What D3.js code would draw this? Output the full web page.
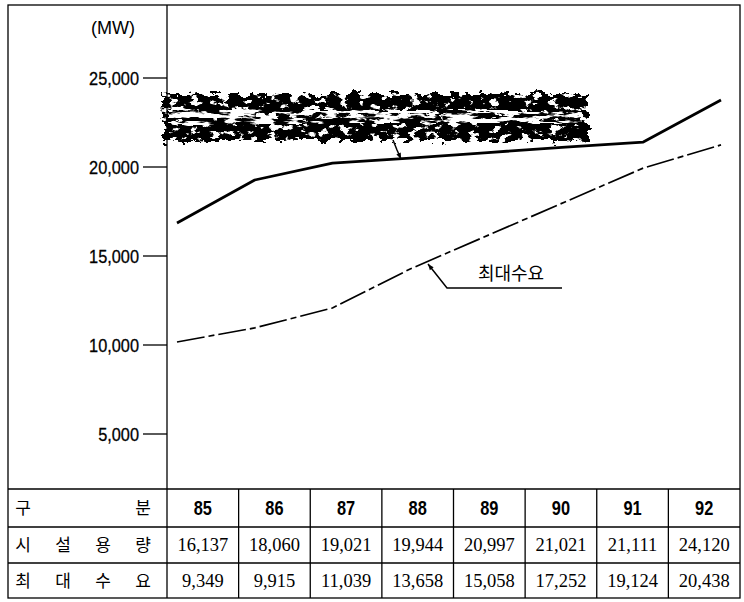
<!DOCTYPE html>
<html>
<head>
<meta charset="utf-8">
<script src="https://cdn.jsdelivr.net/npm/d3@7"></script>
<style>
  body { margin: 0; background: #fff; }
  .narrow { font-family: "Liberation Sans", Arial, sans-serif; }
  .serif { font-family: "Liberation Serif", "DejaVu Serif", serif; }
  .kor { font-family: "Noto Sans CJK KR", sans-serif; }
</style>
</head>
<body>
<div id="chart"></div>
<script>
// 시설용량 / 최대수요 chart (85 ~ 92), drawn with d3.

/* Data. */
var years = ["85", "86", "87", "88", "89", "90", "91", "92"];
var capacity = [16137, 18060, 19021, 19944, 20997, 21021, 21111, 24120]; // table row
var peakDemand = [9349, 9915, 11039, 13658, 15058, 17252, 19124, 20438]; // table row
// values as the lines are drawn on the graph
var capacityLine = [16850, 19270, 20220, 20500, 20810, 21120, 21400, 23760];
var demandLine = [10170, 10960, 12080, 14270, 16160, 18050, 19940, 21240];
var yTicks = [5000, 10000, 15000, 20000, 25000];
var rowHeads = [["구", "분"], ["시", "설", "용", "량"], ["최", "대", "수", "요"]];
var demandLabel = "최대수요";
var unitLabel = "(MW)";

var W = 744, H = 602;
var svg = d3.select("#chart")
    .append("svg")
    .attr("width", W)
    .attr("height", H);

// grain filters for the smudged label band
var defs = svg.append("defs");
function grainFilter(id, freq, seed, matrix, ragged) {
    var f = defs.append("filter").attr("id", id)
        .attr("x", -0.03).attr("y", -0.2).attr("width", 1.06).attr("height", 1.4);
    f.append("feTurbulence").attr("type", "fractalNoise")
        .attr("baseFrequency", freq).attr("numOctaves", 4).attr("seed", seed).attr("result", "n");
    f.append("feDisplacementMap").attr("in", "SourceGraphic").attr("in2", "n")
        .attr("scale", ragged).attr("xChannelSelector", "R").attr("yChannelSelector", "G")
        .attr("result", "d");
    f.append("feColorMatrix").attr("in", "n").attr("type", "matrix")
        .attr("values", matrix).attr("result", "m");
    f.append("feComposite").attr("in", "d").attr("in2", "m").attr("operator", "in");
}
grainFilter("grain", "0.1 0.16", 7, "0 0 0 0 0  0 0 0 0 0  0 0 0 0 0  -16 0 0 0 10.4", 14);
grainFilter("grain2", "0.04 0.22", 3, "0 0 0 0 0  0 0 0 0 0  0 0 0 0 0  -12 0 0 0 6.4", 8);

var arrow = defs.append("marker").attr("id", "arr")
    .attr("viewBox", "0 0 10 10").attr("refX", 10).attr("refY", 5)
    .attr("markerWidth", 9).attr("markerHeight", 6).attr("orient", "auto")
    .attr("markerUnits", "userSpaceOnUse");
arrow.append("path").attr("d", "M0,1 L10,5 L0,9 Z").attr("fill", "#000");

/* Scales. */
var frameL = 8, frameR = 740, frameT = 5, axisX = 167;
var tableTop = 489, rowLines = [489, 527, 563, 598];
var y = d3.scaleLinear().domain([0, 25000]).range([523, 78]);
var xPt = d3.scalePoint().domain(years).range([177, 721]);
var xCol = d3.scaleBand().domain(years).range([axisX, frameR]);

/* Frame. */
svg.append("rect")
    .attr("x", frameL).attr("y", frameT)
    .attr("width", frameR - frameL).attr("height", rowLines[3] - frameT)
    .attr("fill", "none").attr("stroke", "#000").attr("stroke-width", 1.3);
svg.append("line")
    .attr("x1", axisX).attr("x2", axisX).attr("y1", frameT).attr("y2", rowLines[3])
    .attr("stroke", "#000").attr("stroke-width", 1.3);

// condensed text: glyphs squeezed horizontally
function narrowText(sel, x, yy, size, sx, anchor) {
    return sel.append("text")
        .attr("class", "narrow")
        .attr("transform", "translate(" + x + "," + yy + ") scale(" + sx + ",1)")
        .attr("dy", "0.36em")
        .attr("text-anchor", anchor)
        .attr("font-size", size);
}

// y ticks
yTicks.forEach(function(d) {
    svg.append("line")
        .attr("x1", 143).attr("x2", axisX)
        .attr("y1", y(d)).attr("y2", y(d))
        .attr("stroke", "#000").attr("stroke-width", 1.3);
    narrowText(svg, 139, y(d), 19, 0.86, "end")
        .attr("stroke", "#000").attr("stroke-width", 0.3)
        .text(d3.format(",")(d));
});

narrowText(svg, 113, 27, 19, 0.95, "middle").text(unitLabel);

/* Smudged label band (illegible in the source). */
svg.append("rect")
    .attr("x", 162).attr("y", 94).attr("width", 426).attr("height", 47)
    .attr("fill", "#000").attr("filter", "url(#grain)");
svg.append("rect")
    .attr("x", 168).attr("y", 110).attr("width", 414).attr("height", 14)
    .attr("fill", "#fff").attr("filter", "url(#grain2)");

/* Lines. */
var line = d3.line()
    .x(function(d, i) { return xPt(years[i]); })
    .y(function(d) { return y(d); });

svg.append("path")
    .datum(capacityLine)
    .attr("d", line)
    .attr("fill", "none").attr("stroke", "#000")
    .attr("stroke-width", 2.8).attr("stroke-linejoin", "round");

svg.append("path")
    .datum(demandLine)
    .attr("d", line)
    .attr("fill", "none").attr("stroke", "#000")
    .attr("stroke-width", 1.7)
    .attr("stroke-dasharray", "28,4,6,4");

// leader from smudged label to capacity line
svg.append("path")
    .attr("d", "M393,140 L397,150 L401,159")
    .attr("fill", "none").attr("stroke", "#000").attr("stroke-width", 1.5)
    .attr("marker-end", "url(#arr)");

// demand label + leader
svg.append("path")
    .attr("d", "M562,288 L447,288 L428,264")
    .attr("fill", "none").attr("stroke", "#000").attr("stroke-width", 1.5)
    .attr("marker-end", "url(#arr)");
svg.append("text")
    .attr("class", "kor")
    .attr("x", 511).attr("y", 280)
    .attr("text-anchor", "middle")
    .attr("font-size", 18)
    .text(demandLabel);

/* Table. */
rowLines.slice(0, 3).forEach(function(ry) {
    svg.append("line")
        .attr("x1", frameL).attr("x2", frameR).attr("y1", ry).attr("y2", ry)
        .attr("stroke", "#000").attr("stroke-width", 1.3);
});
years.slice(1).forEach(function(yr) {
    svg.append("line")
        .attr("x1", xCol(yr)).attr("x2", xCol(yr))
        .attr("y1", tableTop).attr("y2", rowLines[3])
        .attr("stroke", "#000").attr("stroke-width", 1.3);
});

var rowMid = [0, 1, 2].map(function(i) { return (rowLines[i] + rowLines[i + 1]) / 2; });

// row heads, letters spread across the first column
rowHeads.forEach(function(chars, r) {
    var cx = d3.scaleLinear().domain([0, chars.length - 1]).range([23, 143]);
    svg.selectAll(null).data(chars).enter().append("text")
        .attr("class", "kor")
        .attr("x", function(d, i) { return cx(i); })
        .attr("y", rowMid[r])
        .attr("dy", "0.36em")
        .attr("text-anchor", "middle")
        .attr("font-size", 17)
        .text(function(d) { return d; });
});

years.forEach(function(yr) {
    narrowText(svg, xCol(yr) + xCol.bandwidth() / 2, rowMid[0], 20, 0.82, "middle")
        .attr("font-weight", "bold")
        .text(yr);
});

[capacity, peakDemand].forEach(function(vals, r) {
    svg.selectAll(null).data(vals).enter().append("text")
        .attr("class", "serif")
        .attr("x", function(d, i) { return xCol(years[i]) + xCol.bandwidth() / 2; })
        .attr("y", rowMid[r + 1])
        .attr("dy", "0.34em")
        .attr("text-anchor", "middle")
        .attr("font-size", 18.5)
        .text(function(d) { return d3.format(",")(d); });
});
</script>
</body>
</html>
